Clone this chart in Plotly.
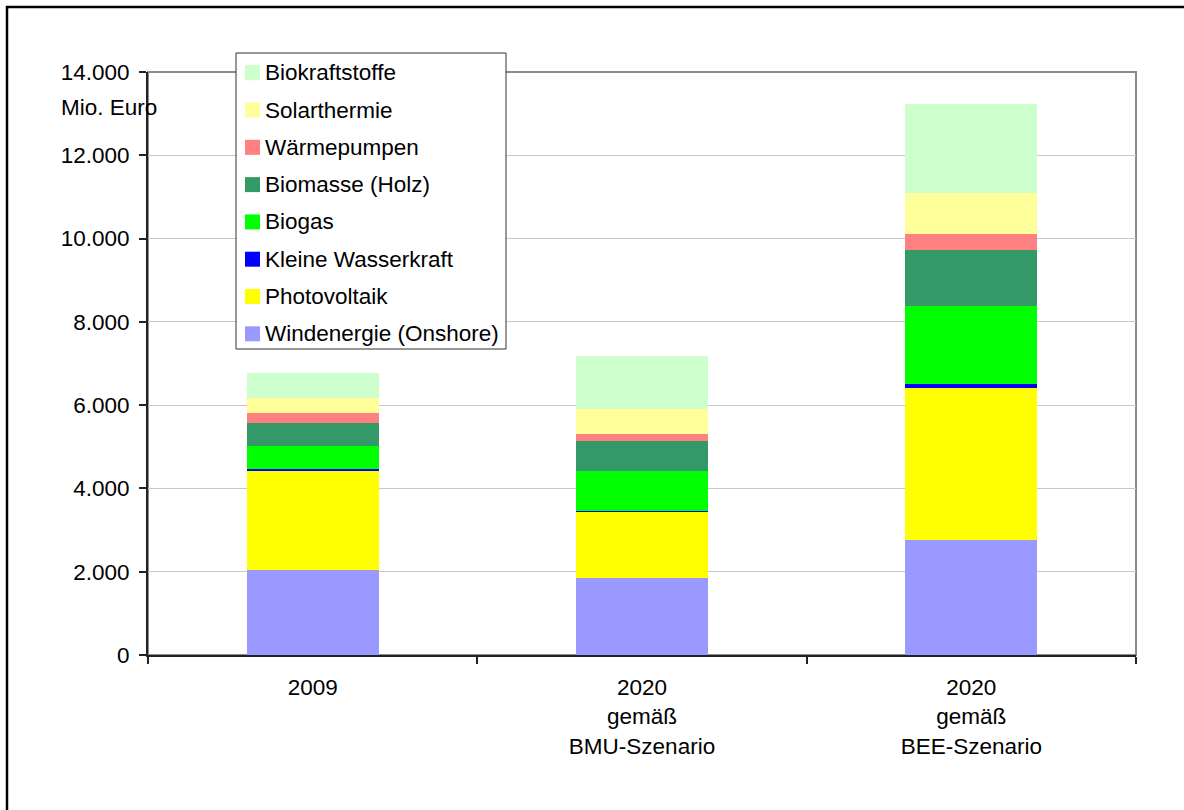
import plotly.graph_objects as go

categories = ["2009", "2020<br>gemäß<br>BMU-Szenario", "2020<br>gemäß<br>BEE-Szenario"]

series_names = [
    "Windenergie (Onshore)",
    "Photovoltaik",
    "Kleine Wasserkraft",
    "Biogas",
    "Biomasse (Holz)",
    "Wärmepumpen",
    "Solarthermie",
    "Biokraftstoffe",
]
wind = [2030, 1860, 2750]
photovoltaik = [2380, 1580, 3655]
wasserkraft = [55, 30, 95]
biogas = [545, 940, 1875]
biomasse = [555, 720, 1345]
waermepumpen = [240, 170, 385]
solarthermie = [370, 600, 985]
biokraftstoffe = [595, 1275, 2140]

series_values = [wind, photovoltaik, wasserkraft, biogas, biomasse,
                 waermepumpen, solarthermie, biokraftstoffe]
colors = ["#9999FF", "#FFFF00", "#0000FF", "#00FF00", "#339966",
          "#FF8080", "#FFFF99", "#CCFFCC"]

y_ticks = [0, 2000, 4000, 6000, 8000, 10000, 12000, 14000]

FONT = "Liberation Sans, Arial, sans-serif"
FS = 22.5

W, H = 1184, 810
L, R, T, B = 148, 48, 72, 155
PW = W - L - R
PH = H - T - B


def px_x(px):
    return (px - L) / PW


def px_y(py):
    return (H - B - py) / PH


fig = go.Figure()
for name, vals, col in zip(series_names, series_values, colors):
    fig.add_trace(go.Bar(
        x=categories, y=vals, name=name, marker=dict(color=col, line=dict(width=0)),
        width=0.4, showlegend=False,
    ))

shapes = []
annotations = []

# plot area frame (top/right gray)
shapes.append(dict(type="rect", xref="paper", yref="paper", x0=0, x1=1, y0=0, y1=1,
                   line=dict(color="#8C8C8C", width=2), layer="below"))
# outer border
shapes.append(dict(type="rect", xref="paper", yref="paper",
                   x0=px_x(7), x1=px_x(1195), y0=px_y(815), y1=px_y(7),
                   line=dict(color="#000000", width=2.5), layer="above"))

# manual legend box
shapes.append(dict(type="rect", xref="paper", yref="paper",
                   x0=px_x(236), x1=px_x(506), y0=px_y(349), y1=px_y(53),
                   line=dict(color="#333333", width=1), fillcolor="white", layer="above"))
legend_order = list(range(len(series_names)))[::-1]
for i, idx in enumerate(legend_order):
    cy = 72.7 + 37.3 * i
    shapes.append(dict(type="rect", xref="paper", yref="paper",
                       x0=px_x(245), x1=px_x(260), y0=px_y(cy + 7.5), y1=px_y(cy - 7.5),
                       line=dict(width=0), fillcolor=colors[idx], layer="above"))
    annotations.append(dict(xref="paper", yref="paper", x=px_x(263), y=px_y(cy),
                            xanchor="left", yanchor="middle", showarrow=False,
                            text=series_names[idx],
                            font=dict(family=FONT, size=FS, color="black")))

annotations.append(dict(xref="paper", yref="paper", x=px_x(59), y=px_y(107),
                        xanchor="left", yanchor="middle", showarrow=False,
                        text="Mio. Euro", font=dict(family=FONT, size=FS, color="black")))

fig.update_layout(
    width=W, height=H,
    margin=dict(l=L, r=R, t=T, b=B, pad=0),
    barmode="stack",
    paper_bgcolor="white", plot_bgcolor="white",
    separators=",.",
    font=dict(family=FONT, size=FS, color="black"),
    shapes=shapes, annotations=annotations,
    showlegend=False,
)
fig.update_xaxes(
    range=[-0.5, 2.5], showline=True, linecolor="#222222", linewidth=2,
    ticks="outside", ticklen=7, tickcolor="#222222", tickwidth=1.5,
    tickson="boundaries", showgrid=False, zeroline=False,
    ticklabelstandoff=11,
    tickfont=dict(family=FONT, size=FS, color="black"),
)
fig.update_yaxes(
    range=[0, 14000], tickvals=y_ticks, tickformat=",d",
    showline=True, linecolor="#222222", linewidth=2,
    ticks="outside", ticklen=7, tickcolor="#222222", tickwidth=1.5,
    showgrid=True, gridcolor="#C8C8C8", gridwidth=1, zeroline=False,
    ticklabelstandoff=5,
    tickfont=dict(family=FONT, size=FS, color="black"),
)

fig.write_html("out.html", config={"displayModeBar": False},
               post_script="document.body.style.margin='0';")
